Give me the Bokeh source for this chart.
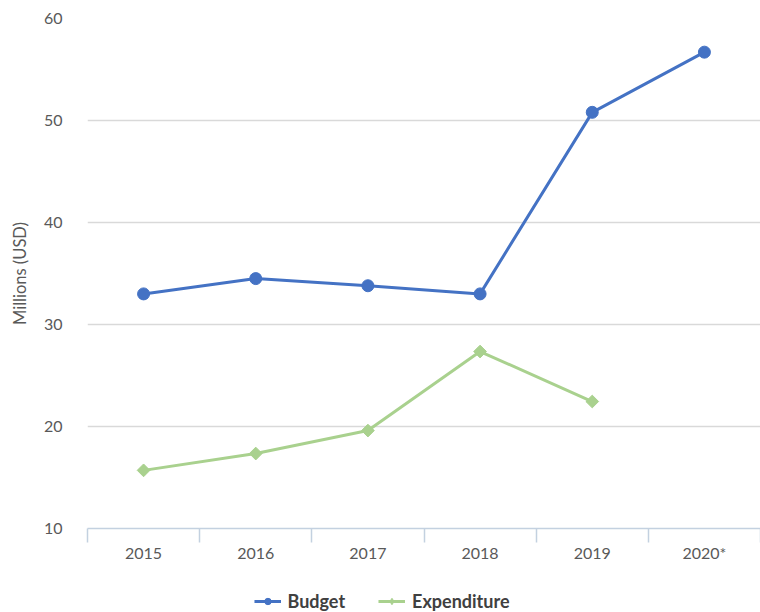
import math
from bokeh.plotting import figure
from bokeh.layouts import column
from bokeh.models import Range1d, FixedTicker, Legend, LegendItem
from bokeh.embed import file_html
from bokeh.resources import INLINE

years = ["2015", "2016", "2017", "2018", "2019", "2020*"]
budget = [33.0, 34.5, 33.8, 33.0, 50.8, 56.7]
expenditure = [15.7, 17.35, 19.6, 27.35, 22.45]
y_ticks = [10, 20, 30, 40, 50, 60]

xs = [i + 0.5 for i in range(len(years))]
bounds = list(range(len(years) + 1))

BLUE = "#4472c4"
GREEN = "#a9d18e"
FONT = "Lato"
TXT = "#595959"

p = figure(frame_width=673, frame_height=510, output_backend="svg", toolbar_location=None,
           x_range=Range1d(0, len(years)), y_range=Range1d(10, 60),
           min_border_left=87, min_border_right=0, min_border_top=18,
           min_border_bottom=62)
p.outline_line_color = None
p.background_fill_color = "white"
p.border_fill_color = "white"

p.xgrid.visible = False
p.ygrid.ticker = FixedTicker(ticks=y_ticks)
p.ygrid.grid_line_color = "#d9d9d9"
p.ygrid.grid_line_width = 1.3

p.xaxis.ticker = FixedTicker(ticks=xs, minor_ticks=bounds)
p.xaxis.major_label_overrides = {x: y for x, y in zip(xs, years)}
p.xaxis.major_tick_line_color = None
p.xaxis.major_tick_out = 0
p.xaxis.major_tick_in = 0
p.xaxis.minor_tick_line_color = "#c3d1e0"
p.xaxis.minor_tick_line_width = 1.5
p.xaxis.minor_tick_out = 14
p.xaxis.minor_tick_in = 0
p.xaxis.axis_line_color = "#c3d1e0"
p.xaxis.axis_line_width = 1.5
p.xaxis.major_label_text_font = FONT
p.xaxis.major_label_text_font_size = "16px"
p.xaxis.major_label_text_color = TXT
p.xaxis.major_label_standoff = 0

p.yaxis.ticker = FixedTicker(ticks=y_ticks)
p.yaxis.axis_line_color = None
p.yaxis.major_tick_line_color = None
p.yaxis.minor_tick_line_color = None
p.yaxis.major_label_text_font = FONT
p.yaxis.major_label_text_font_size = "16px"
p.yaxis.major_label_text_color = TXT
p.yaxis.major_label_standoff = 19
p.yaxis.axis_label = "Millions (USD)"
p.yaxis.axis_label_text_font = FONT
p.yaxis.axis_label_text_font_size = "16.5px"
p.yaxis.axis_label_text_font_style = "normal"
p.yaxis.axis_label_text_color = TXT
p.yaxis.axis_label_standoff = 11

p.line(xs, budget, line_color=BLUE, line_width=3)
p.scatter(xs, budget, marker="circle", size=12, fill_color=BLUE, line_color=BLUE)
p.line(xs[:len(expenditure)], expenditure, line_color=GREEN, line_width=3)
p.scatter(xs[:len(expenditure)], expenditure, marker="square", size=9,
          angle=math.pi / 4, fill_color=GREEN, line_color=GREEN)

# legend strip: same series drawn outside its visible ranges, only the legend shows
q = figure(width=760, height=22, output_backend="svg", toolbar_location=None,
           x_range=Range1d(-10, -9), y_range=Range1d(-10, -9),
           x_axis_type=None, y_axis_type=None,
           min_border_left=0, min_border_right=84, min_border_top=0, min_border_bottom=0)
q.outline_line_color = None
q.xgrid.visible = False
q.ygrid.visible = False
qlb = q.line(xs, budget, line_color=BLUE, line_width=3)
qsb = q.scatter(xs, budget, marker="circle", size=12, fill_color=BLUE, line_color=BLUE)
qle = q.line(xs[:len(expenditure)], expenditure, line_color=GREEN, line_width=3)
qse = q.scatter(xs[:len(expenditure)], expenditure, marker="diamond", size=15,
                fill_color=GREEN, line_color=GREEN)

legend = Legend(items=[LegendItem(label="Budget", renderers=[qlb, qsb]),
                       LegendItem(label="Expenditure", renderers=[qle, qse])],
                orientation="horizontal", location="center")
legend.label_text_font = FONT
legend.label_text_font_size = "18px"
legend.label_text_font_style = "bold"
legend.label_text_color = "#404040"
legend.border_line_color = None
legend.background_fill_alpha = 0
legend.glyph_width = 27
legend.glyph_height = 16
legend.label_height = 16
legend.label_standoff = 7
legend.spacing = 33
legend.padding = 0
legend.margin = 0
q.add_layout(legend, "center")

layout = column(p, q, spacing=0)
open("out.html", "w").write(file_html(layout, INLINE))
